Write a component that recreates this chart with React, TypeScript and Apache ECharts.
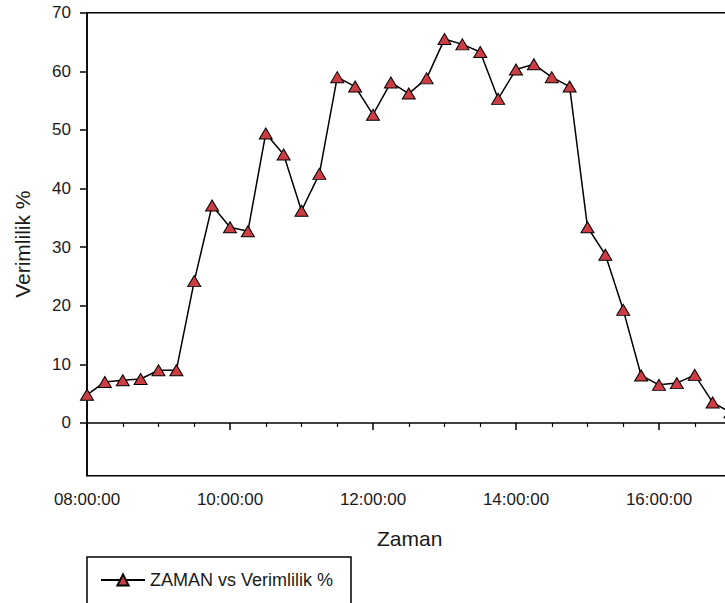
import React, { useEffect, useRef } from "react";
import * as echarts from "echarts";

const times = [
  "08:00", "08:15", "08:30", "08:45", "09:00", "09:15", "09:30", "09:45",
  "10:00", "10:15", "10:30", "10:45", "11:00", "11:15", "11:30", "11:45",
  "12:00", "12:15", "12:30", "12:45", "13:00", "13:15", "13:30", "13:45",
  "14:00", "14:15", "14:30", "14:45", "15:00", "15:15", "15:30", "15:45",
  "16:00", "16:15", "16:30", "16:45", "17:00",
];
const verimlilik = [
  4.8, 7.0, 7.3, 7.5, 9.0, 9.0, 24.2, 37.1,
  33.4, 32.7, 49.4, 45.8, 36.2, 42.5, 59.0, 57.4,
  52.6, 58.1, 56.2, 58.8, 65.5, 64.6, 63.3, 55.3,
  60.3, 61.2, 59.0, 57.4, 33.4, 28.7, 19.3, 8.1,
  6.5, 6.8, 8.2, 3.5, 1.8,
];
const yTicks = [0, 10, 20, 30, 40, 50, 60, 70];
const xLabelHours = [8, 10, 12, 14, 16];
const seriesName = "ZAMAN vs Verimlilik %";
const xTitle = "Zaman";
const yTitle = "Verimlilik %";

const FONT = "'Liberation Sans', Arial, sans-serif";
const TEXT = "#1a1a1a";

function toHours(t: string): number {
  const [h, m] = t.split(":").map(Number);
  return h + m / 60;
}

export default function App() {
  const ref = useRef<HTMLDivElement>(null);

  useEffect(() => {
    if (!ref.current) return;
    const chart = echarts.init(ref.current, undefined, { renderer: "svg" });
    const data = times.map((t, i) => [toHours(t), verimlilik[i]]);
    chart.setOption({
      animation: false,
      backgroundColor: "#ffffff",
      textStyle: { fontFamily: FONT },
      grid: {
        left: 87,
        top: 12.7,
        right: -77,
        bottom: 127.3,
        show: true,
        borderColor: "#000",
        borderWidth: 1.5,
        containLabel: false,
        outerBoundsMode: "none",
      },
      legend: {
        show: true,
        left: 87,
        top: 557,
        orient: "horizontal",
        padding: [14, 18, 40, 13],
        borderColor: "#000",
        borderWidth: 1.5,
        itemWidth: 44,
        itemHeight: 14,
        itemGap: 10,
        textStyle: { fontFamily: FONT, fontSize: 18, color: TEXT },
        data: [seriesName],
      },
      xAxis: {
        type: "value",
        min: 8,
        max: 18,
        interval: 2,
        axisLine: { show: true, lineStyle: { color: "#000", width: 1.5 } },
        axisTick: { show: true, inside: false, length: 7, lineStyle: { color: "#000", width: 1.5 } },
        minorTick: { show: true, splitNumber: 4, length: 4, lineStyle: { color: "#000", width: 1.2 } },
        splitLine: { show: false },
        minorSplitLine: { show: false },
        axisLabel: {
          margin: 15,
          fontSize: 17,
          color: TEXT,
          fontFamily: FONT,
          customValues: xLabelHours,
          formatter: (v: number) => (v < 10 ? "0" : "") + v + ":00:00",
        },
      },
      yAxis: {
        type: "value",
        min: -9,
        max: 70,
        minInterval: 10,
        maxInterval: 10,
        name: yTitle,
        nameLocation: "middle",
        nameGap: 54,
        nameTextStyle: { fontSize: 21, color: TEXT, fontFamily: FONT },
        axisLine: { show: true, lineStyle: { color: "#000", width: 1.5 } },
        axisTick: {
          show: true,
          inside: false,
          length: 7,
          customValues: yTicks,
          lineStyle: { color: "#000", width: 1.5 },
        },
        splitLine: { show: false },
        axisLabel: {
          margin: 16,
          fontSize: 17,
          color: TEXT,
          fontFamily: FONT,
          customValues: yTicks,
          formatter: (v: number) => (v < 0 ? "" : String(v)),
        },
      },
      graphic: [
        {
          type: "text",
          left: 409 - 32,
          top: 540 - 12,
          style: {
            text: xTitle,
            fontSize: 21,
            fill: TEXT,
            fontFamily: FONT,
          },
        },
      ],
      series: [
        {
          name: seriesName,
          type: "line",
          data,
          symbol: "triangle",
          symbolSize: [13, 11],
          showAllSymbol: true,
          lineStyle: { color: "#000", width: 1.5 },
          itemStyle: { color: "#cc3d44", borderColor: "#000", borderWidth: 1 },
          emphasis: { disabled: true },
        },
      ],
    });
    return () => chart.dispose();
  }, []);

  return (
    <div
      ref={ref}
      style={{ position: "fixed", left: 0, top: 0, width: 725, height: 603, background: "#fff" }}
    />
  );
}
